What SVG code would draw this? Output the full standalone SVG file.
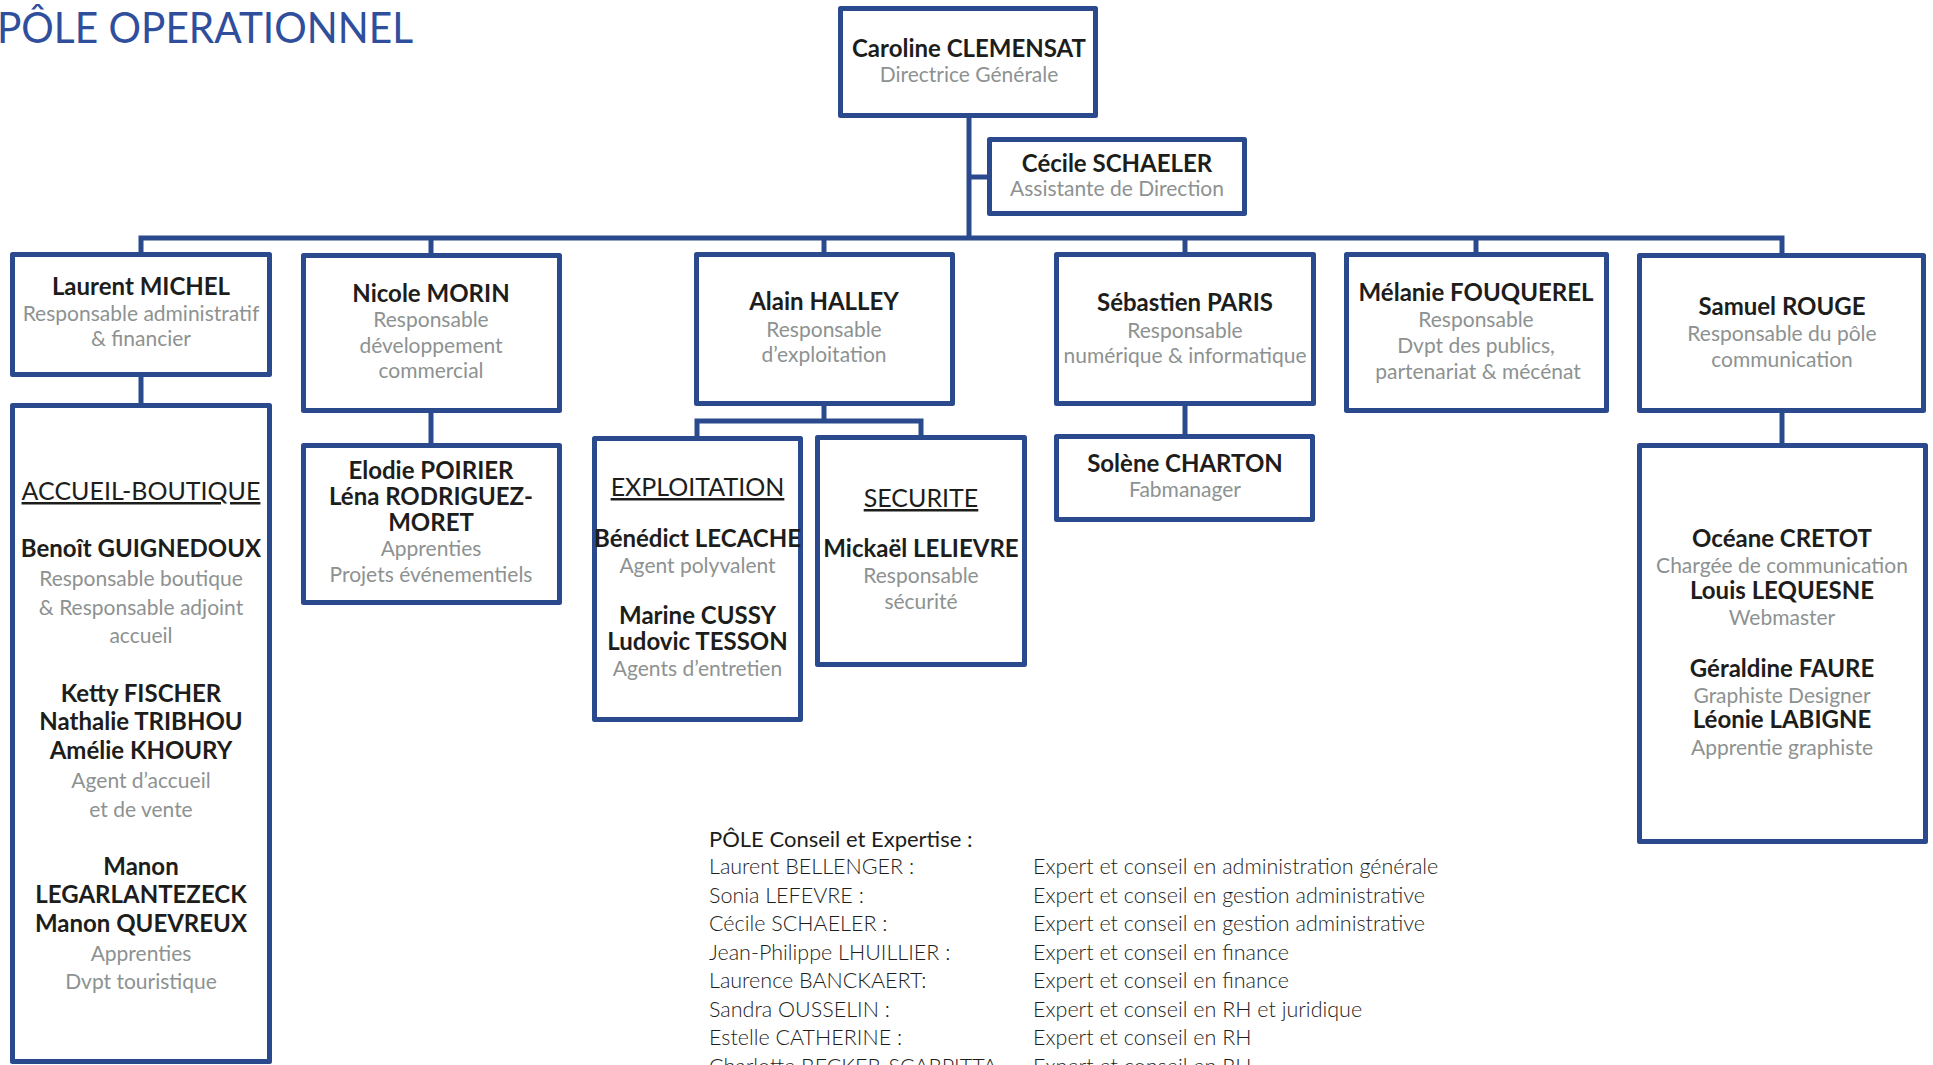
<svg xmlns="http://www.w3.org/2000/svg" width="1933" height="1065" viewBox="0 0 1933 1065">
<style>
.box{fill:#fff;stroke:#2B4A8E;stroke-width:5;stroke-linejoin:round}
.conn{fill:none;stroke:#2B4A8E;stroke-width:5}
text{font-family:Lato,"Noto Sans","Liberation Sans",sans-serif}
.n{font-weight:700;font-size:24px;fill:#1d1d1b;text-anchor:middle}
.r{font-weight:400;font-size:21px;fill:#8d9291;text-anchor:middle}
.h{font-weight:400;font-size:25px;fill:#1d1d1b;text-anchor:middle;text-decoration:underline}
.title{font-weight:400;font-size:43px;fill:#2F4E9C}
.ct{font-weight:400;font-size:22px;fill:#1d1d1b}
.cl{font-weight:300;font-size:21.5px;fill:#1d1d1b}
</style>
<text class="title" x="-3" y="43" textLength="416" lengthAdjust="spacingAndGlyphs">PÔLE OPERATIONNEL</text>
<g id="connectors">
<path class="conn" d="M969,118 V238"/>
<path class="conn" d="M969,177 H988"/>
<path class="conn" d="M141,254 V238 H1782 V254"/>
<path class="conn" d="M431,238 V254"/>
<path class="conn" d="M824,238 V254"/>
<path class="conn" d="M1185,238 V254"/>
<path class="conn" d="M1476,238 V254"/>
<path class="conn" d="M141,376 V404"/>
<path class="conn" d="M431,412 V444"/>
<path class="conn" d="M824,405 V421"/>
<path class="conn" d="M697,437 V421 H921 V437"/>
<path class="conn" d="M1185,405 V435"/>
<path class="conn" d="M1782,412 V444"/>
</g>
<g id="caroline">
<rect class="box" x="840.5" y="8.5" width="255" height="107"/>
<text class="n" x="969" y="57">Caroline CLEMENSAT</text>
<text class="r" x="969" y="82">Directrice Générale</text>
</g>
<g id="cecile">
<rect class="box" x="989.5" y="139.5" width="255" height="74"/>
<text class="n" x="1117" y="172">Cécile SCHAELER</text>
<text class="r" x="1117" y="196">Assistante de Direction</text>
</g>
<g id="laurent">
<rect class="box" x="12.5" y="254.5" width="257" height="120"/>
<text class="n" x="141" y="295">Laurent MICHEL</text>
<text class="r" x="141" y="321">Responsable administratif</text>
<text class="r" x="141" y="346">&amp; financier</text>
</g>
<g id="accueil">
<rect class="box" x="12.5" y="405.5" width="257" height="656"/>
<text class="h" x="141" y="500">ACCUEIL-BOUTIQUE</text>
<text class="n" x="141" y="557">Benoît GUIGNEDOUX</text>
<text class="r" x="141" y="586">Responsable boutique</text>
<text class="r" x="141" y="615">&amp; Responsable adjoint</text>
<text class="r" x="141" y="643">accueil</text>
<text class="n" x="141" y="702">Ketty FISCHER</text>
<text class="n" x="141" y="730">Nathalie TRIBHOU</text>
<text class="n" x="141" y="759">Amélie KHOURY</text>
<text class="r" x="141" y="788">Agent d’accueil</text>
<text class="r" x="141" y="817">et de vente</text>
<text class="n" x="141" y="875">Manon</text>
<text class="n" x="141" y="903">LEGARLANTEZECK</text>
<text class="n" x="141" y="932">Manon QUEVREUX</text>
<text class="r" x="141" y="961">Apprenties</text>
<text class="r" x="141" y="989">Dvpt touristique</text>
</g>
<g id="nicole">
<rect class="box" x="303.5" y="255.5" width="256" height="155"/>
<text class="n" x="431" y="302">Nicole MORIN</text>
<text class="r" x="431" y="327">Responsable</text>
<text class="r" x="431" y="353">développement</text>
<text class="r" x="431" y="378">commercial</text>
</g>
<g id="elodie">
<rect class="box" x="303.5" y="445.5" width="256" height="157"/>
<text class="n" x="431" y="479">Elodie POIRIER</text>
<text class="n" x="431" y="505">Léna RODRIGUEZ-</text>
<text class="n" x="431" y="531">MORET</text>
<text class="r" x="431" y="556">Apprenties</text>
<text class="r" x="431" y="582">Projets événementiels</text>
</g>
<g id="alain">
<rect class="box" x="696.5" y="254.5" width="256" height="149"/>
<text class="n" x="824" y="310">Alain HALLEY</text>
<text class="r" x="824" y="337">Responsable</text>
<text class="r" x="824" y="362">d’exploitation</text>
</g>
<g id="exploitation">
<rect class="box" x="594.5" y="438.5" width="206" height="281"/>
<text class="h" x="697.5" y="496">EXPLOITATION</text>
<text class="n" x="697.5" y="547">Bénédict LECACHE</text>
<text class="r" x="697.5" y="573">Agent polyvalent</text>
<text class="n" x="697.5" y="624">Marine CUSSY</text>
<text class="n" x="697.5" y="650">Ludovic TESSON</text>
<text class="r" x="697.5" y="676">Agents d’entretien</text>
</g>
<g id="securite">
<rect class="box" x="817.5" y="437.5" width="207" height="227"/>
<text class="h" x="921" y="507">SECURITE</text>
<text class="n" x="921" y="557">Mickaël LELIEVRE</text>
<text class="r" x="921" y="583">Responsable</text>
<text class="r" x="921" y="609">sécurité</text>
</g>
<g id="sebastien">
<rect class="box" x="1056.5" y="254.5" width="257" height="149"/>
<text class="n" x="1185" y="311">Sébastien PARIS</text>
<text class="r" x="1185" y="338">Responsable</text>
<text class="r" x="1185" y="363">numérique &amp; informatique</text>
</g>
<g id="solene">
<rect class="box" x="1056.5" y="436.5" width="256" height="83"/>
<text class="n" x="1185" y="472">Solène CHARTON</text>
<text class="r" x="1185" y="497">Fabmanager</text>
</g>
<g id="melanie">
<rect class="box" x="1346.5" y="254.5" width="260" height="156"/>
<text class="n" x="1476" y="301">Mélanie FOUQUEREL</text>
<text class="r" x="1476" y="327">Responsable</text>
<text class="r" x="1476" y="353">Dvpt des publics,</text>
<text class="r" x="1478" y="379">partenariat &amp; mécénat</text>
</g>
<g id="samuel">
<rect class="box" x="1639.5" y="255.5" width="284" height="155"/>
<text class="n" x="1782" y="315">Samuel ROUGE</text>
<text class="r" x="1782" y="341">Responsable du pôle</text>
<text class="r" x="1782" y="367">communication</text>
</g>
<g id="communication">
<rect class="box" x="1639.5" y="445.5" width="286" height="396"/>
<text class="n" x="1782" y="547">Océane CRETOT</text>
<text class="r" x="1782" y="573">Chargée de communication</text>
<text class="n" x="1782" y="599">Louis LEQUESNE</text>
<text class="r" x="1782" y="625">Webmaster</text>
<text class="n" x="1782" y="677">Géraldine FAURE</text>
<text class="r" x="1782" y="703">Graphiste Designer</text>
<text class="n" x="1782" y="728">Léonie LABIGNE</text>
<text class="r" x="1782" y="755">Apprentie graphiste</text>
</g>
<g id="pole-conseil">
<text class="ct" x="709" y="847">PÔLE Conseil et Expertise :</text>
<text class="cl" x="709" y="874">Laurent BELLENGER :</text>
<text class="cl" x="1033" y="874">Expert et conseil en administration générale</text>
<text class="cl" x="709" y="903">Sonia LEFEVRE :</text>
<text class="cl" x="1033" y="903">Expert et conseil en gestion administrative</text>
<text class="cl" x="709" y="931">Cécile SCHAELER :</text>
<text class="cl" x="1033" y="931">Expert et conseil en gestion administrative</text>
<text class="cl" x="709" y="960">Jean-Philippe LHUILLIER :</text>
<text class="cl" x="1033" y="960">Expert et conseil en finance</text>
<text class="cl" x="709" y="988">Laurence BANCKAERT:</text>
<text class="cl" x="1033" y="988">Expert et conseil en finance</text>
<text class="cl" x="709" y="1017">Sandra OUSSELIN :</text>
<text class="cl" x="1033" y="1017">Expert et conseil en RH et juridique</text>
<text class="cl" x="709" y="1045">Estelle CATHERINE :</text>
<text class="cl" x="1033" y="1045">Expert et conseil en RH</text>
<text class="cl" x="709" y="1074">Charlotte BECKER-SCARPITTA</text>
<text class="cl" x="1033" y="1074">Expert et conseil en RH</text>
</g>
</svg>
